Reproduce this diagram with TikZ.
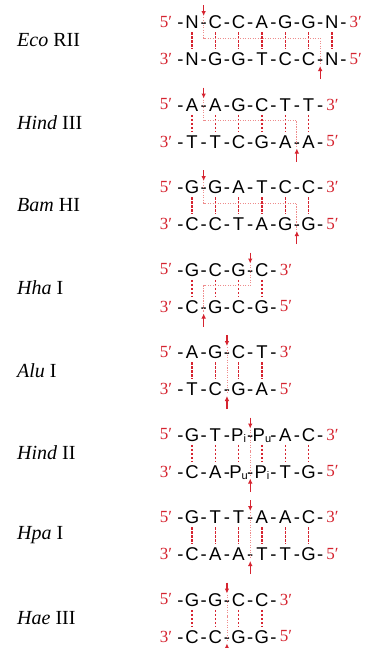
\documentclass[tikz,border=0pt]{standalone}
\usepackage{fontspec}
\setmainfont{Liberation Serif}
\newfontfamily\seqfont{Liberation Sans}
\usetikzlibrary{arrows.meta}
\definecolor{cutred}{RGB}{214,36,48}
\definecolor{pathpink}{RGB}{238,140,140}
\newcommand\psub[1]{P\raisebox{-1.5pt}{\fontsize{11}{11}\selectfont #1}}
\tikzset{
  base/.style={font=\seqfont\fontsize{18.5}{18.5}\selectfont, inner sep=0pt, text height=13.2pt, text depth=0pt},
  primelab/.style={text=cutred, font=\fontsize{17}{17}\selectfont, inner sep=0pt},
  enzyme/.style={anchor=west, font=\fontsize{20}{20}\selectfont, inner sep=0pt},
  pair/.style={draw=cutred, line width=1.4pt, dash pattern=on 2.4pt off 1.6pt, shorten >=3.5pt, shorten <=3.5pt},
  cutpath/.style={draw=pathpink, line width=0.8pt, dash pattern=on 1.2pt off 1.3pt},
  cutarrow/.style={draw=cutred, line width=1.2pt, -{Latex[length=5pt,width=4.6pt]}},
}
% #1 index, #2 label, #3 top letters, #4 bottom letters, #5 count, #6 top cut after, #7 bottom cut after
\newcommand\dnablock[7]{%
  \pgfmathsetmacro\ty{22+82.5*#1}
  \pgfmathsetmacro\by{\ty+37}
  \pgfmathsetmacro\rx{192+23.3*(#5-1)+24}
  \pgfmathsetmacro\tcx{192+23.3*#6+11.65}
  \pgfmathsetmacro\bcx{192+23.3*#7+11.65}
  \node[enzyme] (lab#1) at (17,\ty+18.5) {#2};
  \node[primelab] (tl#1) at (166,\ty) {5′};
  \node[primelab] (bl#1) at (166,\by) {3′};
  \node[primelab] (tr#1) at (\rx,\ty) {3′};
  \node[primelab] (br#1) at (\rx,\by) {5′};
  \foreach \l [count=\i from 0] in {#3} {\node[base] (t#1-\i) at ({192+23.3*\i},\ty) {\l};}
  \foreach \l [count=\i from 0] in {#4} {\node[base] (b#1-\i) at ({192+23.3*\i},\by) {\l};}
  \foreach \i in {0,...,#5} {
    \node[base] (th#1-\i) at ({192+23.3*\i-11.65},\ty) {-};
    \node[base] (bh#1-\i) at ({192+23.3*\i-11.65},\by) {-};
  }
  \pgfmathtruncatemacro\last{#5-1}
  \foreach \i in {0,...,\last} {\draw[pair] (t#1-\i.south) -- (b#1-\i.north);}
  \coordinate (ca#1) at (\tcx,\ty-5);
  \coordinate (cb#1) at (\tcx,\ty+16);
  \coordinate (cc#1) at (\bcx,\ty+16);
  \coordinate (cd#1) at (\bcx,\by+5);
  \draw[cutpath] (ca#1) -- (cb#1) -- (cc#1) -- (cd#1);
  \coordinate (ta#1) at (\tcx,\ty-17);
  \coordinate (tb#1) at (\tcx,\ty-6);
  \coordinate (ba#1) at (\bcx,\by+20);
  \coordinate (bb#1) at (\bcx,\by+7);
  \draw[cutarrow] (ta#1) -- (tb#1);
  \draw[cutarrow] (ba#1) -- (bb#1);
}
\begin{document}
\begin{tikzpicture}[x=1pt,y=-1pt]
\useasboundingbox[fill=white] (0,0) rectangle (375,648);
\dnablock{0}{\textit{Eco} RII}{N,C,C,A,G,G,N}{N,G,G,T,C,C,N}{7}{0}{5}
\dnablock{1}{\textit{Hind} III}{A,A,G,C,T,T}{T,T,C,G,A,A}{6}{0}{4}
\dnablock{2}{\textit{Bam} HI}{G,G,A,T,C,C}{C,C,T,A,G,G}{6}{0}{4}
\dnablock{3}{\textit{Hha} I}{G,C,G,C}{C,G,C,G}{4}{2}{0}
\dnablock{4}{\textit{Alu} I}{A,G,C,T}{T,C,G,A}{4}{1}{1}
\dnablock{5}{\textit{Hind} II}{G,T,\psub{i},\psub{u},A,C}{C,A,\psub{u},\psub{i},T,G}{6}{2}{2}
\dnablock{6}{\textit{Hpa} I}{G,T,T,A,A,C}{C,A,A,T,T,G}{6}{2}{2}
\dnablock{7}{\textit{Hae} III}{G,G,C,C}{C,C,G,G}{4}{1}{1}
\end{tikzpicture}
\end{document}
